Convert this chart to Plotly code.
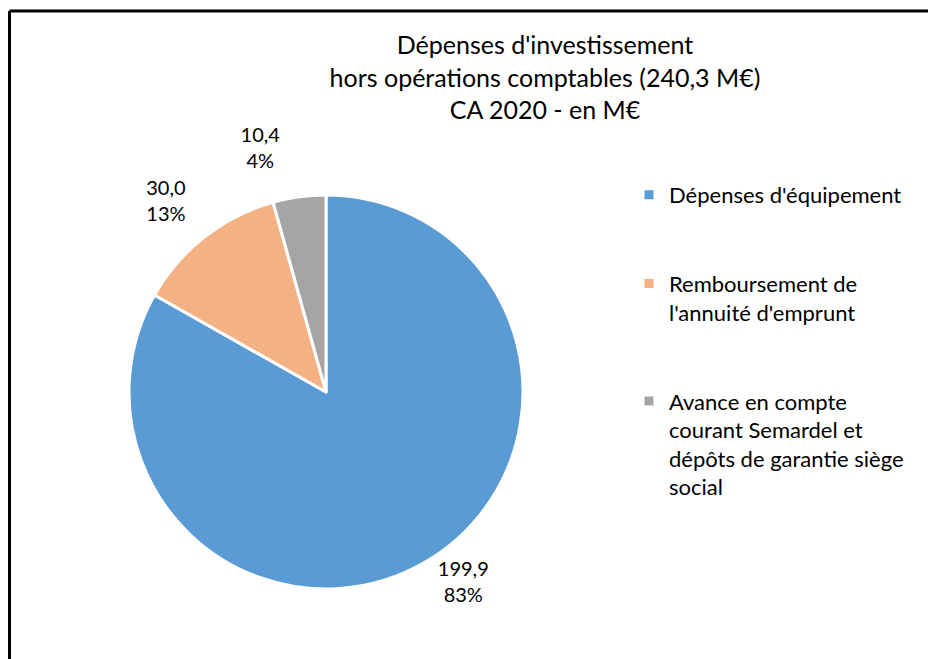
import plotly.graph_objects as go

categories = [
    "Dépenses d'équipement",
    "Remboursement de<br>l'annuité d'emprunt",
    "Avance en compte<br>courant Semardel et<br>dépôts de garantie siège<br>social",
]
values = [199.9, 30.0, 10.4]
percent_labels = ["83%", "13%", "4%"]
slice_colors = ["#5B9BD5", "#F4B183", "#A5A5A5"]

W, H = 936, 659
FONT = "Lato"

# padding lines so legend entries sit roughly evenly like the Excel original
legend_labels = [categories[0] + "<br> <br> ", categories[1] + "<br> <br> ", categories[2]]

dom = dict(x=[121 / W, 515 / W], y=[1 - 581 / H, 1 - 187 / H])
# excel keeps the upper labels a bit further from the pie: extra blank line lifts them
tmpl = ["%{value:.1f}<br>%{text}", "%{value:.1f}<br>%{text}<br> ", "%{value:.1f}<br>%{text}<br> "]

fig = go.Figure()
# visible pie, labels for the two big slices
fig.add_trace(go.Pie(
    labels=legend_labels,
    values=values,
    text=percent_labels,
    sort=False,
    direction="clockwise",
    rotation=0,
    marker=dict(colors=slice_colors, line=dict(color="white", width=3)),
    textposition=["outside", "outside", "none"],
    texttemplate=tmpl,
    textfont=dict(family=FONT, size=20, color="#000000"),
    domain=dom,
    hoverinfo="skip",
))
# same pie, transparent, only carries the small slice label (avoids label scooting)
fig.add_trace(go.Pie(
    labels=legend_labels,
    values=values,
    text=percent_labels,
    sort=False,
    direction="clockwise",
    rotation=0,
    marker=dict(colors=["rgba(0,0,0,0)"] * 3, line=dict(width=0)),
    textposition=["none", "none", "outside"],
    texttemplate=tmpl,
    textfont=dict(family=FONT, size=20, color="#000000"),
    domain=dom,
    hoverinfo="skip",
    showlegend=False,
))

fig.update_layout(
    width=W, height=H,
    margin=dict(l=0, r=0, t=0, b=0),
    paper_bgcolor="white",
    separators=", ",
    font=dict(family=FONT, size=22, color="#000000"),
    title=dict(
        text="Dépenses d'investissement<br>hors opérations comptables (240,3 M€)<br>CA 2020 - en M€",
        x=537 / W, xanchor="center",
        y=1 - 46 / H, yanchor="top", yref="container",
        font=dict(family=FONT, size=25, color="#000000"),
    ),
    legend=dict(
        x=621 / W, xanchor="left",
        y=1 - 166 / H, yanchor="top",
        valign="top",
        font=dict(family=FONT, size=22, color="#000000"),
        itemwidth=30,
        bgcolor="rgba(0,0,0,0)",
    ),
    shapes=[
        dict(type="line", xref="paper", yref="paper", x0=1.5 / W, x1=1.0, y0=1 - 3 / H, y1=1 - 3 / H,
             line=dict(color="black", width=3)),
        dict(type="line", xref="paper", yref="paper", x0=1.5 / W, x1=1.5 / W, y0=0, y1=1 - 3 / H,
             line=dict(color="black", width=3)),
    ],
)

fig.write_html("out.html")
